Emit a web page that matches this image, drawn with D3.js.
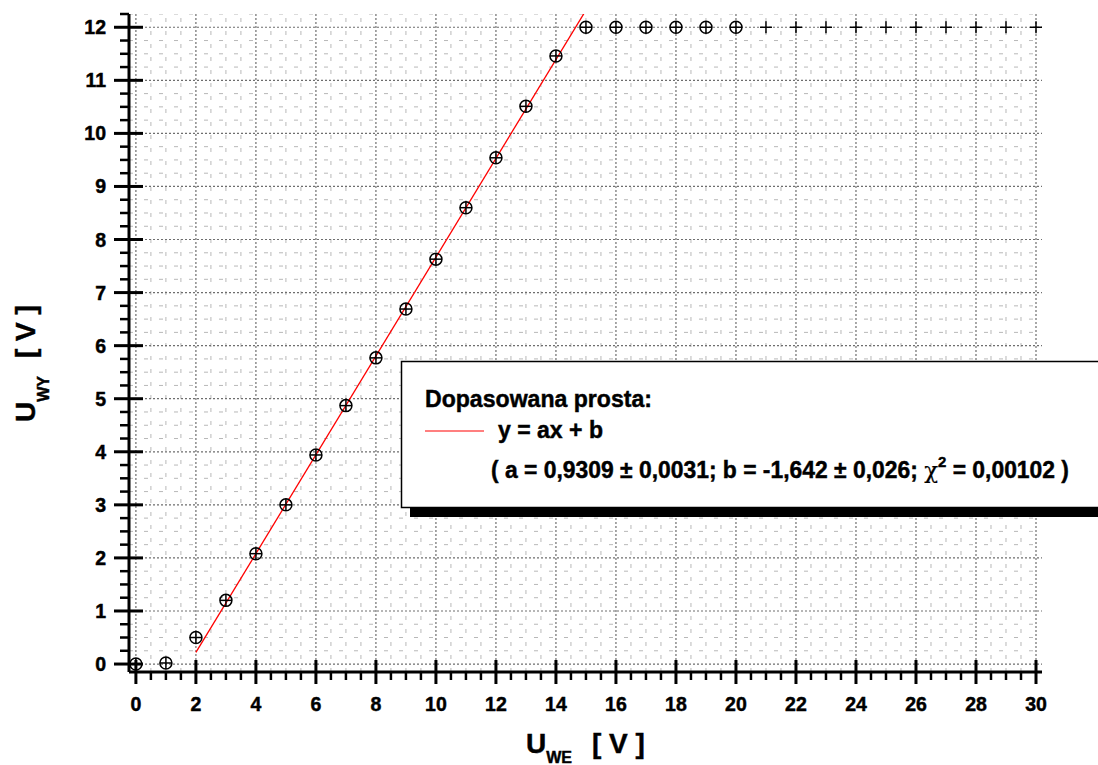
<!DOCTYPE html>
<html>
<head>
<meta charset="utf-8">
<script src="https://cdn.jsdelivr.net/npm/d3@7"></script>
<style>
  body { margin: 0; background: #fff; }
  svg { display: block; }
  text { font-family: "Liberation Sans", Arial, Helvetica, sans-serif; font-weight: bold; fill: #000;
         stroke: #000; stroke-width: 0.45px; }
</style>
</head>
<body>
<svg id="chart" width="1098" height="765"></svg>
<script>
// measured points (U_WE -> U_WY), circled markers
const uWE = [0, 1, 2, 3, 4, 5, 6, 7, 8, 9, 10, 11, 12, 13, 14, 15, 16, 17, 18, 19, 20];
const uWY = [0, 0.02, 0.5, 1.2, 2.08, 3.0, 3.94, 4.87, 5.77, 6.69, 7.63, 8.6, 9.54, 10.51, 11.46, 12, 12, 12, 12, 12, 12];
// saturated points, plain "+" markers
const uWEsat = [21, 22, 23, 24, 25, 26, 27, 28, 29, 30];
const uWYsat = [12, 12, 12, 12, 12, 12, 12, 12, 12, 12];

// fitted line y = a*x + b
const fitA = 0.9309, fitB = -1.642;
const fitRange = [2, 15];

const xTicks = [0, 2, 4, 6, 8, 10, 12, 14, 16, 18, 20, 22, 24, 26, 28, 30];
const yTicks = [0, 1, 2, 3, 4, 5, 6, 7, 8, 9, 10, 11, 12];

const legendTitle = "Dopasowana prosta:";
const legendEq = "y = ax + b";
const legendParams = ["( a = 0,9309 ± 0,0031; b = -1,642 ± 0,026; ", "χ", "2", " = 0,00102 )"];

const svg = d3.select("#chart");

const x = d3.scaleLinear().domain([-0.23, 30.2]).range([129, 1042]);
const y = d3.scaleLinear().domain([-0.15, 12.25]).range([672, 14]);
const [x0, x1] = x.range();
const [y0, y1] = y.range();

svg.append("defs").append("clipPath").attr("id", "plot")
  .append("rect").attr("x", x0).attr("y", y1).attr("width", x1 - x0).attr("height", y0 - y1);

// minor grid (light dashes)
const xMinor = d3.range(0, 30.01, 0.5).filter(v => !xTicks.includes(v));
const yMinor = d3.range(0, 12.26, 0.25).filter(v => !yTicks.includes(v));

const grid = svg.append("g").attr("clip-path", "url(#plot)");
grid.selectAll(".vmin").data(xMinor).join("line")
  .attr("x1", d => x(d)).attr("x2", d => x(d)).attr("y1", y0).attr("y2", y1)
  .attr("stroke", "#b8b8b8").attr("stroke-width", 1).attr("stroke-dasharray", "4,9");
grid.selectAll(".hmin").data(yMinor).join("line")
  .attr("y1", d => y(d)).attr("y2", d => y(d)).attr("x1", x0).attr("x2", x1)
  .attr("stroke", "#b8b8b8").attr("stroke-width", 1).attr("stroke-dasharray", "4,11");

// major grid (dotted)
grid.selectAll(".vmaj").data(xTicks).join("line")
  .attr("x1", d => x(d)).attr("x2", d => x(d)).attr("y1", y0).attr("y2", y1)
  .attr("stroke", "#6e6e6e").attr("stroke-width", 1.2).attr("stroke-dasharray", "2,2");
grid.selectAll(".hmaj").data(yTicks).join("line")
  .attr("y1", d => y(d)).attr("y2", d => y(d)).attr("x1", x0).attr("x2", x1)
  .attr("stroke", "#6e6e6e").attr("stroke-width", 1.2).attr("stroke-dasharray", "2,2");

// fitted line
const line = d3.line().x(d => x(d)).y(d => y(fitA * d + fitB));
svg.append("path").datum(fitRange)
  .attr("clip-path", "url(#plot)")
  .attr("d", line)
  .attr("fill", "none").attr("stroke", "#ff0000").attr("stroke-width", 1.3);

// markers
const r = 6;
const pts = uWE.map((v, i) => ({ x: v, y: uWY[i] }));
const sat = uWEsat.map((v, i) => ({ x: v, y: uWYsat[i] }));

const mk = svg.append("g").attr("stroke", "#000").attr("stroke-width", 1.5).attr("fill", "none");
mk.selectAll("circle").data(pts).join("circle")
  .attr("cx", d => x(d.x)).attr("cy", d => y(d.y)).attr("r", r);
const plus = pts.concat(sat);
mk.selectAll(".ph").data(plus).join("line")
  .attr("x1", d => x(d.x) - r).attr("x2", d => x(d.x) + r)
  .attr("y1", d => y(d.y)).attr("y2", d => y(d.y));
mk.selectAll(".pv").data(plus).join("line")
  .attr("x1", d => x(d.x)).attr("x2", d => x(d.x))
  .attr("y1", d => y(d.y) - r).attr("y2", d => y(d.y) + r);

// axes
const ax = svg.append("g").attr("stroke", "#000");
ax.append("line").attr("x1", x0).attr("x2", x1).attr("y1", y0).attr("y2", y0).attr("stroke-width", 3);
ax.append("line").attr("x1", x0).attr("x2", x0).attr("y1", y0).attr("y2", y1).attr("stroke-width", 3);

ax.selectAll(".xmaj").data(xTicks).join("line")
  .attr("x1", d => x(d)).attr("x2", d => x(d)).attr("y1", y0 - 12).attr("y2", y0 + 12)
  .attr("stroke-width", 3);
ax.selectAll(".xmin").data(xMinor).join("line")
  .attr("x1", d => x(d)).attr("x2", d => x(d)).attr("y1", y0).attr("y2", y0 + 8)
  .attr("stroke-width", 2.5);
ax.selectAll(".ymaj").data(yTicks).join("line")
  .attr("y1", d => y(d)).attr("y2", d => y(d)).attr("x1", x0 - 15).attr("x2", x0 + 14)
  .attr("stroke-width", 3);
ax.selectAll(".ymin").data(yMinor).join("line")
  .attr("y1", d => y(d)).attr("y2", d => y(d)).attr("x1", x0 - 9).attr("x2", x0)
  .attr("stroke-width", 2.5);

svg.append("g").selectAll("text").data(xTicks).join("text")
  .attr("x", d => x(d)).attr("y", 711)
  .attr("text-anchor", "middle").style("font-size", "19.5px")
  .text(d => d);
svg.append("g").selectAll("text").data(yTicks).join("text")
  .attr("x", 106).attr("y", d => y(d) + 7)
  .attr("text-anchor", "end").style("font-size", "19.5px")
  .text(d => d);

// axis titles
const xt = svg.append("text").attr("x", 526).attr("y", 753).style("font-size", "28px");
xt.append("tspan").text("U");
xt.append("tspan").attr("dy", 10).style("font-size", "16px").text("WE");
xt.append("tspan").attr("dy", -10).attr("dx", 20).text("[ V ]");

const yt = svg.append("text").attr("transform", "translate(35,422) rotate(-90)").style("font-size", "28px");
yt.append("tspan").text("U");
yt.append("tspan").attr("dy", 14).style("font-size", "16px").text("WY");
yt.append("tspan").attr("dy", -14).attr("dx", 18).text("[ V ]");

// legend box
const lg = svg.append("g");
lg.append("rect").attr("x", 410).attr("y", 370).attr("width", 700).attr("height", 147).attr("fill", "#000");
lg.append("rect").attr("x", 401.5).attr("y", 361.5).attr("width", 700).attr("height", 146)
  .attr("fill", "#fff").attr("stroke", "#000").attr("stroke-width", 1.5);
lg.append("text").attr("x", 425).attr("y", 407).style("font-size", "24px")
  .attr("textLength", 227).attr("lengthAdjust", "spacingAndGlyphs").text(legendTitle);
lg.append("line").attr("x1", 425).attr("x2", 484).attr("y1", 431).attr("y2", 431)
  .attr("stroke", "#ff0000").attr("stroke-width", 1.2);
lg.append("text").attr("x", 498).attr("y", 438).style("font-size", "24px")
  .attr("textLength", 105).attr("lengthAdjust", "spacingAndGlyphs").text(legendEq);
const pt = lg.append("text").attr("x", 491).attr("y", 478).style("font-size", "23px")
  .attr("textLength", 578).attr("lengthAdjust", "spacingAndGlyphs");
pt.append("tspan").text(legendParams[0]);
pt.append("tspan").style("font-weight", "normal").style("stroke-width", "0.2px")
  .style("font-family", "'DejaVu Serif', serif").text(legendParams[1]);
pt.append("tspan").attr("dy", -11).style("font-size", "15px").text(legendParams[2]);
pt.append("tspan").attr("dy", 11).text(legendParams[3]);
</script>
</body>
</html>
